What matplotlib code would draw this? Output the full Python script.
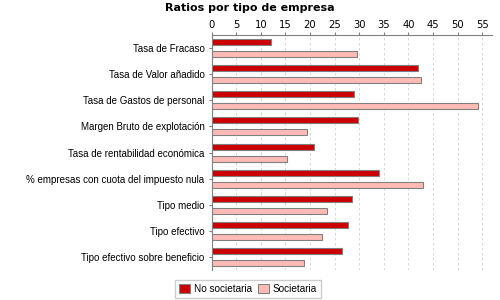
import numpy as np
import matplotlib.pyplot as plt

categories = ['Tasa de Fracaso', 'Tasa de Valor añadido', 'Tasa de Gastos de personal',
              'Margen Bruto de explotación', 'Tasa de rentabilidad económica',
              '% empresas con cuota del impuesto nula', 'Tipo medio', 'Tipo efectivo',
              'Tipo efectivo sobre beneficio']
no_societaria = [12.0, 41.9, 28.9, 29.8, 20.8, 34.0, 28.5, 27.7, 26.5]
societaria = [29.6, 42.5, 54.1, 19.4, 15.3, 42.9, 23.5, 22.5, 18.8]
series_names = ['No societaria', 'Societaria']
xticks = list(range(0, 60, 5))

fig = plt.figure(figsize=(5, 3), dpi=100)
ax = fig.add_axes([0.423, 0.1, 0.561, 0.783])

y = np.arange(len(categories))
h = 0.23
ax.barh(y - h, no_societaria, height=h, color='#cc0000', edgecolor='#808080', linewidth=0.8,
        label=series_names[0], zorder=3)
ax.barh(y + h, societaria, height=h, color='#ffbbb4', edgecolor='#808080', linewidth=0.8,
        label=series_names[1], zorder=3)

ax.set_ylim(len(categories) - 0.5, -0.5)
ax.set_xlim(0, 57)
ax.set_yticks(y)
ax.set_yticklabels(categories, fontsize=7, family='Liberation Sans')
ax.set_xticks(xticks)
ax.xaxis.tick_top()
ax.tick_params(axis='x', labelsize=7.2, length=2, color='#808080', pad=2)
ax.tick_params(axis='y', length=2, color='#808080', pad=3)
ax.grid(axis='x', color='#d0d0d0', linestyle=(0, (3, 3)), linewidth=0.6, zorder=0)

for side in ['right', 'bottom']:
    ax.spines[side].set_visible(False)
for side in ['left', 'top']:
    ax.spines[side].set_color('#808080')
    ax.spines[side].set_linewidth(0.8)

fig.text(0.5, 0.99, 'Ratios por tipo de empresa', ha='center', va='top',
         fontsize=8, fontweight='bold')

fig.legend(loc='center', bbox_to_anchor=(0.496, 0.037), ncol=2,
           prop={'family': 'Liberation Sans', 'size': 7.2},
           frameon=True, fancybox=False, edgecolor='#c0c0c0', handlelength=1.1,
           handleheight=1.1, handletextpad=0.4, columnspacing=0.6, borderpad=0.35)

fig.savefig('out.png', dpi=100)
